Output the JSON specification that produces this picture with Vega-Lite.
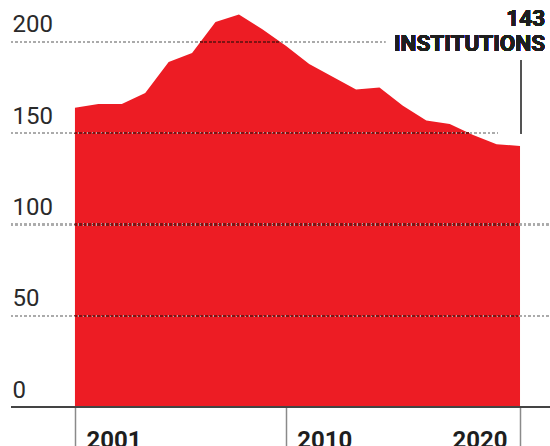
{
  "$schema": "https://vega.github.io/schema/vega-lite/v6.json",
  "width": 550,
  "height": 407,
  "autosize": {"type": "none"},
  "padding": {"left": 0, "top": 0, "right": 0, "bottom": 39},
  "background": "white",
  "config": {"view": {"stroke": null}},
  "data": {
    "values": [
      {"year": 2001, "count": 164},
      {"year": 2002, "count": 166},
      {"year": 2003, "count": 166},
      {"year": 2004, "count": 172},
      {"year": 2005, "count": 189},
      {"year": 2006, "count": 194},
      {"year": 2007, "count": 211},
      {"year": 2008, "count": 215},
      {"year": 2009, "count": 207},
      {"year": 2010, "count": 198},
      {"year": 2011, "count": 188},
      {"year": 2012, "count": 181},
      {"year": 2013, "count": 174},
      {"year": 2014, "count": 175},
      {"year": 2015, "count": 165},
      {"year": 2016, "count": 157},
      {"year": 2017, "count": 155},
      {"year": 2018, "count": 149},
      {"year": 2019, "count": 144},
      {"year": 2020, "count": 143}
    ]
  },
  "layer": [
    {
      "mark": {"type": "area", "color": "#ed1c24", "interpolate": "linear"},
      "encoding": {
        "x": {
          "field": "year", "type": "quantitative",
          "scale": {"domain": [1997.8, 2021.28], "nice": false, "zero": false},
          "axis": {
            "values": [2001, 2010, 2020], "format": "d", "title": null,
            "domain": false, "grid": false,
            "ticks": true, "tickSize": 39, "tickColor": "#8a8a8a", "tickWidth": 1.5,
            "labelFont": "Roboto", "labelFontWeight": "bold", "labelFontSize": 24, "labelColor": "#1e1e1e",
            "labelAlign": {"condition": {"test": "datum.value == 2020", "value": "right"}, "value": "left"},
            "labelOffset": {"condition": {"test": "datum.value == 2020", "value": -13}, "value": 11},
            "labelBaseline": "top", "labelPadding": -18,
            "labelFlush": false, "labelOverlap": false
          }
        },
        "y": {
          "field": "count", "type": "quantitative",
          "scale": {"domain": [0, 223], "nice": false},
          "axis": {
            "values": [0, 50, 100, 150, 200], "title": null,
            "domain": false, "ticks": false, "grid": false,
            "labelFont": "Roboto", "labelFontSize": 24, "labelColor": "#2a2a2a",
            "labelAlign": "left", "labelBaseline": "alphabetic",
            "labelPadding": -12, "labelOffset": -10
          }
        }
      }
    },
    {
      "mark": {"type": "rule", "stroke": "#ababab", "strokeWidth": 1.5, "strokeDash": [2, 2.5]},
      "encoding": {"y": {"datum": 200}, "x": {"datum": 1998.27}, "x2": {"datum": 2014.24}}
    },
    {
      "mark": {"type": "rule", "stroke": "#ababab", "strokeWidth": 1.5, "strokeDash": [2, 2.5]},
      "encoding": {"y": {"datum": 150}, "x": {"datum": 1998.27}, "x2": {"datum": 2019.06}}
    },
    {
      "mark": {"type": "rule", "stroke": "#ababab", "strokeWidth": 1.5, "strokeDash": [2, 2.5]},
      "encoding": {"y": {"datum": 100}, "x": {"datum": 1998.27}, "x2": {"datum": 2021.28}}
    },
    {
      "mark": {"type": "rule", "stroke": "#ababab", "strokeWidth": 1.5, "strokeDash": [2, 2.5]},
      "encoding": {"y": {"datum": 50}, "x": {"datum": 1998.27}, "x2": {"datum": 2021.28}}
    },
    {
      "mark": {"type": "rule", "stroke": "#7e1414", "strokeWidth": 1.5, "strokeDash": [2, 2.5], "strokeDashOffset": 0},
      "encoding": {"y": {"datum": 200}, "x": {"datum": 2006.35}, "x2": {"datum": 2009.78}}
    },
    {
      "mark": {"type": "rule", "stroke": "#7e1414", "strokeWidth": 1.5, "strokeDash": [2, 2.5]},
      "encoding": {"y": {"datum": 150}, "x": {"datum": 2001}, "x2": {"datum": 2017.83}}
    },
    {
      "mark": {"type": "rule", "stroke": "#7e1414", "strokeWidth": 1.5, "strokeDash": [2, 2.5]},
      "encoding": {"y": {"datum": 100}, "x": {"datum": 2001}, "x2": {"datum": 2020}}
    },
    {
      "mark": {"type": "rule", "stroke": "#7e1414", "strokeWidth": 1.5, "strokeDash": [2, 2.5]},
      "encoding": {"y": {"datum": 50}, "x": {"datum": 2001}, "x2": {"datum": 2020}}
    },
    {
      "mark": {"type": "rule", "color": "#444", "strokeWidth": 2},
      "encoding": {"y": {"datum": 0}, "x": {"datum": 1998.27}, "x2": {"datum": 2021.28}}
    },
    {
      "mark": {"type": "rule", "color": "#555", "strokeWidth": 1.5},
      "encoding": {"x": {"datum": 2020.05}, "y": {"datum": 150}, "y2": {"datum": 190}}
    },
    {
      "mark": {"type": "text", "align": "right", "baseline": "alphabetic", "font": "Roboto", "fontWeight": "bold", "fontSize": 22.5, "color": "#1e1e1e"},
      "encoding": {"x": {"datum": 2021.07}, "y": {"datum": 209}, "text": {"value": "143"}}
    },
    {
      "mark": {"type": "text", "align": "right", "baseline": "alphabetic", "font": "Roboto", "fontWeight": "bold", "fontSize": 22.5, "color": "#1e1e1e"},
      "encoding": {"x": {"datum": 2021.07}, "y": {"datum": 195.2}, "text": {"value": "INSTITUTIONS"}}
    }
  ]
}
